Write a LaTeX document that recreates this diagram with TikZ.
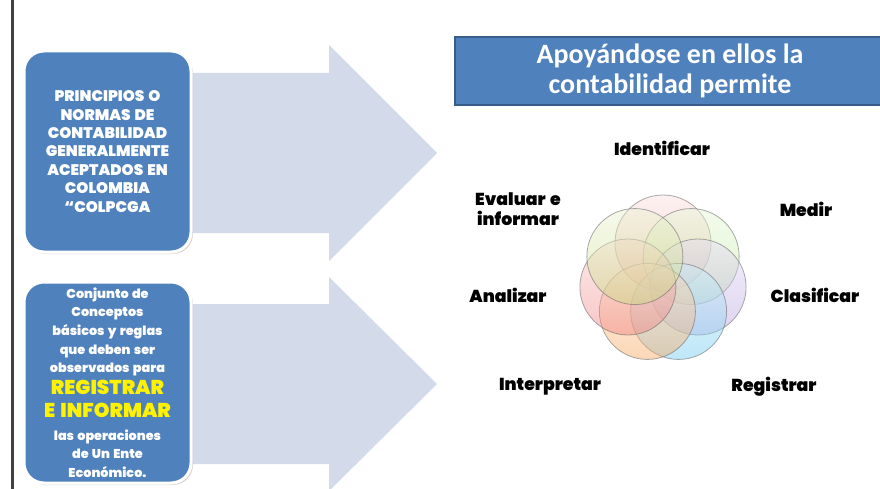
\documentclass[tikz,border=0pt]{standalone}
\usepackage{fontspec}
\setmainfont{Liberation Sans}
\newfontfamily\heavy{Poppins Black}[WordSpace=1.5]
\newfontfamily\titlefont{Carlito}
\usetikzlibrary{shadows}
\definecolor{boxblue}{HTML}{4F81BD}
\definecolor{boxedge}{HTML}{385D8A}
\definecolor{arrowfill}{HTML}{D3DAE9}
\definecolor{cPink}{HTML}{F4A6A6}
\definecolor{cGreen}{HTML}{B8E890}
\definecolor{cLav}{HTML}{B8A0E0}
\definecolor{cBlue}{HTML}{70CCF0}
\definecolor{cOrange}{HTML}{F8A860}
\definecolor{cRed}{HTML}{F08080}
\definecolor{cYG}{HTML}{C8DC80}
\tikzset{
  leftbox/.style={rectangle, rounded corners=20pt, fill=boxblue, draw=white, line width=3pt,
    minimum width=167pt, minimum height=201pt, text=white, align=center,
    drop shadow={shadow xshift=2pt, shadow yshift=-2pt, fill=gray!60, opacity=0.5}},
  titlebox/.style={rectangle, fill=boxblue, draw=boxedge, line width=1.2pt,
    minimum width=430pt, minimum height=68pt, text=white, align=center,
    font=\titlefont\bfseries\fontsize{28}{30.5}\selectfont},
  ring/.style={circle, minimum size=96pt, inner sep=0pt, draw=gray!80!black, draw opacity=0.55,
    line width=0.8pt, fill opacity=0.45},
  lbl/.style={font=\heavy\fontsize{17.3}{19.5}\selectfont, align=center, text=black},
  boxtextA/.style={font=\heavy\fontsize{15.3}{18.4}\selectfont},
  boxtextB/.style={font=\heavy\fontsize{12.8}{18.6}\selectfont}
}
\begin{document}
\begin{tikzpicture}[x=1pt,y=-1pt]
\useasboundingbox (0,0) rectangle (880,489);
\fill[white] (0,0) rectangle (880,489);
% vertical line
\draw[line width=2.5pt, draw=black!75] (12.5,0) -- (12.5,489);
% arrows
\fill[arrowfill] (150,73) -- (329,73) -- (329,45) -- (437,153) -- (329,261) -- (329,233) -- (150,233) -- cycle;
\fill[arrowfill] (150,304) -- (329,304) -- (329,277) -- (437,384) -- (329,491) -- (329,464) -- (150,464) -- cycle;
% left boxes
\node[leftbox, boxtextA] (b1) at (107.5,151.5) {PRINCIPIOS O\\NORMAS DE\\CONTABILIDAD\\GENERALMENTE\\ACEPTADOS EN\\COLOMBIA\\“COLPCGA};
\node[leftbox, boxtextB] (b2) at (107.5,382.5) {Conjunto de\\Conceptos\\básicos y reglas\\que deben ser\\observados para\\[3.5pt]
  {\fontsize{20}{22}\selectfont\color{yellow}REGISTRAR}\\[4.5pt]
  {\fontsize{20}{22}\selectfont\color{yellow}E INFORMAR}\\[3.5pt]
  las operaciones\\de Un Ente\\Económico.};
% title
\node[titlebox] (t) at (670,71) {Apoyándose en ellos la\\contabilidad permite};
% circles
\foreach \a/\c/\n in {90/cPink/c1, 38.57/cGreen/c2, -12.86/cLav/c3, -64.29/cBlue/c4, -115.71/cOrange/c5, 192.86/cRed/c6, 141.43/cYG/c7}{
  \node[ring, top color=\c!35!white, bottom color=\c] (\n) at ({663+36*cos(\a)},{279-36*sin(\a)}) {};
}
% labels
\node[lbl] (l1) at (662,148) {Identificar};
\node[lbl] (l2) at (806,209) {Medir};
\node[lbl] (l3) at (815,295) {Clasificar};
\node[lbl] (l4) at (774,387) {Registrar};
\node[lbl] (l5) at (550,387) {Interpretar};
\node[lbl] (l6) at (508,295) {Analizar};
\node[lbl] (l7) at (518,209) {Evaluar e\\informar};
\end{tikzpicture}
\end{document}
